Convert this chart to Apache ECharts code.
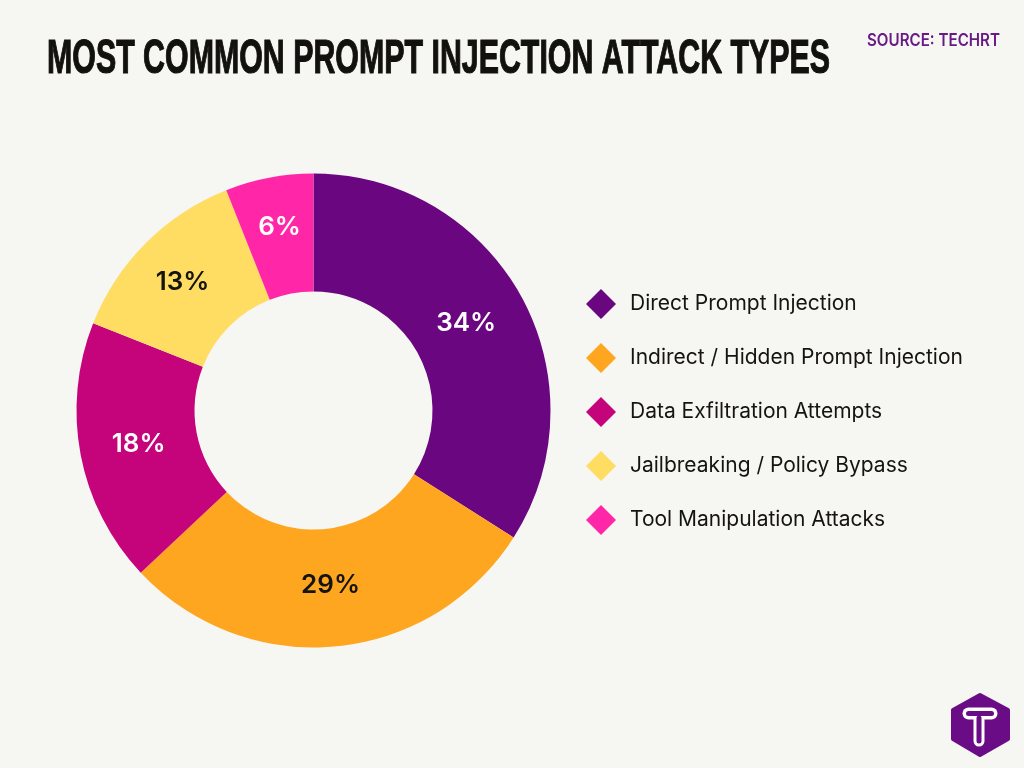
<!DOCTYPE html>
<html><head><meta charset="utf-8">
<style>html,body{margin:0;padding:0;background:#f6f6f3}#c{width:1024px;height:768px}</style>
<script src="https://cdn.jsdelivr.net/npm/echarts@6/dist/echarts.min.js"></script>
</head><body><div id="c"></div>
<script>
const titleText = 'MOST COMMON PROMPT INJECTION ATTACK TYPES';
const sourceText = 'SOURCE: TECHRT';
const categories = ['Direct Prompt Injection','Indirect / Hidden Prompt Injection','Data Exfiltration Attempts','Jailbreaking / Policy Bypass','Tool Manipulation Attacks'];
const values = [34,29,18,13,6];
const colors = ['#6a0680','#ffa620','#c5047c','#ffdc62','#ff27a8'];
const labelColors = ['#ffffff','#161410','#ffffff','#161410','#ffffff'];
const labelNudgeX = [-6,0,3,-3,0];
const labelNudgeY = [0,-6,0,0,-6];
const measure = document.createElement('canvas').getContext('2d');
function fit(font,text,w){measure.font=font;return w/measure.measureText(text).width;}
const titleFont='bold 49px "Liberation Sans"', sourceFont='600 17px Inter';
const chart = echarts.init(document.getElementById('c'),null,{renderer:'canvas'});
chart.setOption({
  backgroundColor:'#f6f6f3',
  animation:false,
  legend:{
    orient:'vertical',left:581,top:284,itemWidth:30,itemHeight:30,itemGap:24,icon:'diamond',
    data:categories,selectedMode:false,
    textStyle:{fontFamily:'Inter',fontSize:21,color:'#161410',padding:[0,0,0,9]}
  },
  series:[{
    type:'pie',center:[313.5,410.5],radius:[119,237],startAngle:90,clockwise:true,
    avoidLabelOverlap:false,
    data:categories.map((n,i)=>({name:n,value:values[i],
      itemStyle:{color:colors[i]},
      label:{color:labelColors[i]}})),
    label:{show:true,position:'inside',formatter:'{d}%',fontFamily:'Inter',fontWeight:600,fontSize:26},
    labelLine:{show:false},
    labelLayout:p=>({dx:labelNudgeX[p.dataIndex],dy:labelNudgeY[p.dataIndex]}),
    emphasis:{disabled:true}
  }],
  graphic:[
    {type:'text',x:47,y:35,scaleX:fit(titleFont,titleText,783),
      style:{text:titleText,fontFamily:'"Liberation Sans"',fontWeight:'bold',fontSize:49,fill:'#12110d',stroke:'#12110d',lineWidth:1.2}},
    {type:'text',x:867,y:32,scaleX:fit(sourceFont,sourceText,133),
      style:{text:sourceText,fontFamily:'Inter',fontWeight:600,fontSize:17,fill:'#6a1a85'}},
    {type:'polygon',shape:{points:[[980,695],[1008,710],[1008,739],[980,755],[953,739],[953,710]]},style:{fill:'#6a0c85',stroke:'#6a0c85',lineWidth:4,lineJoin:'round'}},
    {type:'polyline',shape:{points:[[968.5,713.5],[991.5,713.5]]},style:{stroke:'#fff',lineWidth:12,lineCap:'round',fill:null}},
    {type:'polyline',shape:{points:[[979,714],[979,741]]},style:{stroke:'#fff',lineWidth:11,lineCap:'round',fill:null}},
    {type:'polyline',shape:{points:[[968.5,713.5],[991.5,713.5]]},style:{stroke:'#6a0c85',lineWidth:5,lineCap:'round',fill:null}},
    {type:'polyline',shape:{points:[[979,718],[979,741]]},style:{stroke:'#6a0c85',lineWidth:5,lineCap:'round',fill:null}}
  ]
});
</script></body></html>
